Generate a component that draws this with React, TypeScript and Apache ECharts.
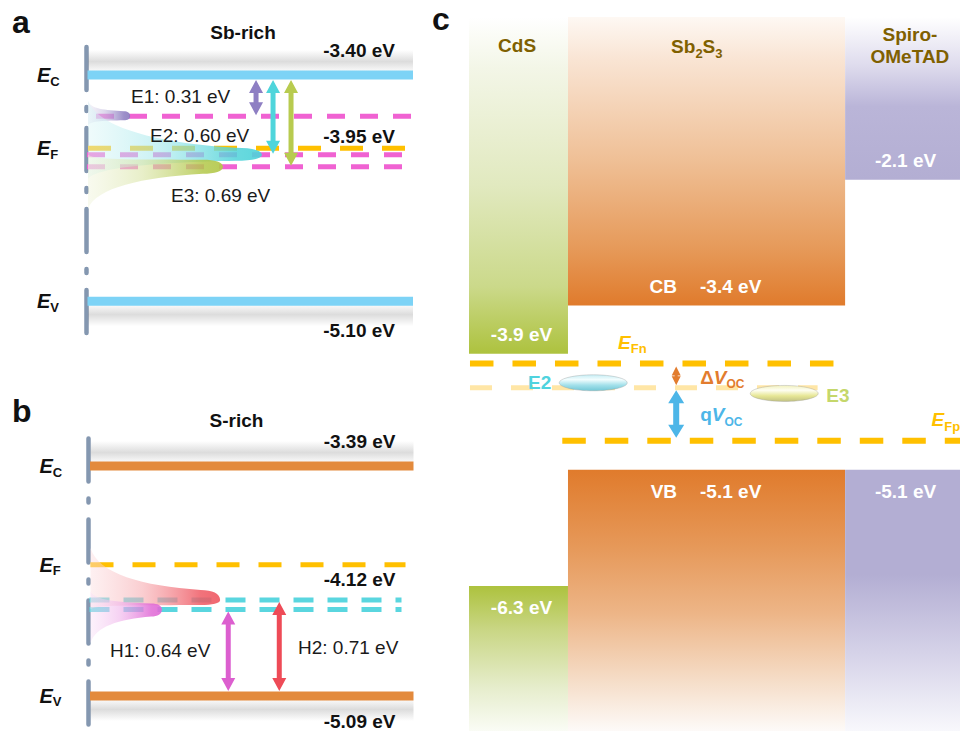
import React, { useEffect, useRef } from "react";
import * as echarts from "echarts";

const FONT = '"Liberation Sans", Arial, Helvetica, sans-serif';

// ================= DATA =================
// Panel a — Sb-rich Sb2S3 (energies in eV)
const sbRichLevelNames = ["C", "F", "V"];
const sbRichLevels = [-3.4, -3.95, -5.1];
const sbRichTrapNames = ["E1", "E2", "E3"];
const sbRichTrapDepths = [0.31, 0.6, 0.69]; // below E_C

// Panel b — S-rich Sb2S3 (energies in eV)
const sRichLevelNames = ["C", "F", "V"];
const sRichLevels = [-3.39, -4.12, -5.09];
const sRichTrapNames = ["H1", "H2"];
const sRichTrapHeights = [0.64, 0.71]; // above E_V

// Panel c — device band alignment (energies in eV)
const layerNames = ["CdS", "Sb2S3", "Spiro-OMeTAD"];
const layerCB = [-3.9, -3.4, -2.1];
const layerVB = [-6.3, -5.1, -5.1];
const layerCBTags = ["", "CB", ""];
const layerVBTags = ["", "VB", ""];
const quasiFermiNames = ["Fn", "Fp"];
const quasiFermiLevels = [-4.0, -4.8];
const deepTrapLevel = -4.25;
const cTrapNames = ["E2", "E3"];
const cTrapLevels = [-4.2, -4.31];
const voltageLabels = [
  ["\u0394", "V", "OC"],
  ["q", "V", "OC"],
];

// ================= STYLE / LAYOUT =================
const FERMI = "#ffc000";
const AXIS_GREY = "#8497b0";
const A_BAND = "#7dd3f6";
const B_BAND = "#e38a3c";
const A_TRAP_LINE = "#f062d2";
const B_TRAP_LINE = "#5ad6df";
const A_ARROW_COLORS = ["#8e7fc3", "#4fd5db", "#b8cb4f"];
const B_ARROW_COLORS = ["#dc5fcf", "#ee4b57"];
const A_BLOB_COLORS = ["#8c7cc0", "#4fd3d9", "#b3c84a"];
const B_BLOB_COLORS = ["#e06ad6", "#ef5a64"];
const TITLE_BROWN = "#7f6000";

const A_VAL_DY = [-25, -11.5, 29];
const B_VAL_DY = [-24.5, 15, 26];
const A_ARROW_X = [0.52, 0.572, 0.627];
const B_ARROW_X = [0.43, 0.587];
const A_TRAP_LABEL = [
  [45, -19.7],
  [64, -19.7],
  [85, 28.3],
];
const B_TRAP_LABEL = [
  [21.5, 41],
  [209.5, 47.5],
];
// [tip x fraction, upward spread px, downward spread px, tip half-thickness up, down]
const A_BLOBS = [
  [0.135, 15, 9, 5, 4],
  [0.538, 54, 24, 7, 6],
  [0.419, 12, 42, 7, 7],
];
const B_BLOBS = [
  [0.226, 18, 34, 6, 7],
  [0.405, 52, 9, 10, 5],
];

const C_LAYER_X = [
  [0, 20.16],
  [20.16, 76.6],
  [76.6, 100],
];
const C_TITLE_X = [9.8, 46.4, 89.8];
const C_TITLE_DY = [25, 26, 25];
const C_FERMI_X = [
  [0.2, 74.3],
  [19.0, 101],
];
const C_FERMI_LABEL_X = [30.35, 94.2];
const C_RECOMB_X = [0.2, 71];
const C_TRAP_X = [25.3, 64.2];
const C_ARROW_X = 42.2;

const CB_GRADS: [number, string][][] = [
  [[0, "#ffffff"], [0.15, "#f3f6e7"], [0.5, "#e1e9bf"], [0.8, "#cbd98a"], [1, "#adc23e"]],
  [[0, "#fef8f3"], [0.15, "#f9e4d3"], [0.5, "#efbf95"], [0.8, "#e69a5a"], [1, "#e07b2c"]],
  [[0, "#ffffff"], [0.3, "#dedbed"], [0.55, "#bab5d8"], [1, "#b3aed3"]],
];
const VB_GRADS: [number, string][][] = [
  [[0, "#adc23e"], [0.3, "#c9d684"], [0.7, "#e6edcc"], [1, "#fafcf5"]],
  [[0, "#e07b2c"], [0.3, "#e6995a"], [0.55, "#edb587"], [0.8, "#f5dcc6"], [1, "#fdfaf8"]],
  [[0, "#b3aed3"], [0.4, "#b3aed3"], [0.7, "#d5d2e8"], [1, "#f8f8fc"]],
];
const SHADOW_UP: [number, string][] = [
  [0, "rgba(110,110,110,0)"],
  [0.55, "rgba(110,110,110,0.24)"],
  [1, "rgba(110,110,110,0.04)"],
];
const SHADOW_DOWN: [number, string][] = [
  [0, "rgba(110,110,110,0.04)"],
  [0.45, "rgba(110,110,110,0.24)"],
  [1, "rgba(110,110,110,0)"],
];

// ================= HELPERS =================
const mix = (hex: string, t: number, a = 1) => {
  const n = parseInt(hex.slice(1), 16);
  const r = (n >> 16) & 255,
    g = (n >> 8) & 255,
    b = n & 255;
  const m = (c: number) => Math.round(c + (255 - c) * t);
  return `rgba(${m(r)},${m(g)},${m(b)},${a})`;
};
const grad = (stops: [number, string][], horizontal = false) => ({
  type: "linear",
  x: 0,
  y: 0,
  x2: horizontal ? 1 : 0,
  y2: horizontal ? 0 : 1,
  colorStops: stops.map(([offset, color]) => ({ offset, color })),
});
const hLine = (x1: number, x2: number, y: number, stroke: string, lineWidth: number, lineDash: number[]) => ({
  type: "line",
  shape: { x1, y1: y, x2, y2: y },
  style: { stroke, lineWidth, lineDash },
});
const dblArrow = (x: number, yT: number, yB: number, fill: string, hw = 7, hl = 13, sw = 2.5) => ({
  type: "polygon",
  shape: {
    points: [
      [x, yT],
      [x + hw, yT + hl],
      [x + sw, yT + hl],
      [x + sw, yB - hl],
      [x + hw, yB - hl],
      [x, yB],
      [x - hw, yB - hl],
      [x - sw, yB - hl],
      [x - sw, yT + hl],
      [x - hw, yT + hl],
    ],
  },
  style: { fill },
});
// tip -> rounded shoulder -> flared tail to the axis, on one side (s = -1 up, +1 down)
const blobSide = (x0: number, xT: number, y0: number, ext: number, a: number, s: number, reverse: boolean) => {
  const w = xT - x0;
  const P1 = [x0 + 0.85 * w, y0 + s * a];
  const segs = [
    // tip to shoulder
    [[xT, y0], [xT, y0 + s * a * 0.65], [xT - 0.06 * w, y0 + s * a], P1],
    // shoulder to axis
    [P1, [x0 + 0.4 * w, y0 + s * (a + 0.1 * (ext - a))], [x0 + 0.06 * w, y0 + s * 0.5 * ext], [x0, y0 + s * ext]],
  ];
  if (!reverse) {
    return segs.map((g) => `C ${g[1][0]} ${g[1][1]} ${g[2][0]} ${g[2][1]} ${g[3][0]} ${g[3][1]}`).join(" ");
  }
  return segs
    .slice()
    .reverse()
    .map((g) => `C ${g[2][0]} ${g[2][1]} ${g[1][0]} ${g[1][1]} ${g[0][0]} ${g[0][1]}`)
    .join(" ");
};
const blob = (x0: number, xT: number, y0: number, p: number[], color: string, z2 = 0) => {
  const [, up, down, aUp, aDown] = p;
  const d =
    `M ${x0} ${y0 - up} ` +
    blobSide(x0, xT, y0, up, aUp, -1, true) +
    " " +
    blobSide(x0, xT, y0, down, aDown, 1, false) +
    " Z";
  return {
    type: "path",
    z2,
    shape: { pathData: d },
    style: {
      fill: grad(
        [
          [0, mix(color, 0.8, 0.45)],
          [0.4, mix(color, 0.5, 0.6)],
          [0.85, mix(color, 0, 0.85)],
          [1, mix(color, 0, 0.92)],
        ],
        true
      ),
    },
  };
};
const plainText = (x: number, y: number, text: string, o: any = {}) => ({
  type: "text",
  x,
  y,
  style: {
    text,
    fontFamily: FONT,
    fontSize: 19,
    fontWeight: "normal",
    fill: "#1a1a1a",
    align: "left",
    verticalAlign: "middle",
    ...o,
  },
});
const richText = (x: number, y: number, parts: string[][], o: any = {}) => {
  const { size = 19, subSize = 13, fill = "#111", align = "left", pad = 12 } = o;
  const base = { fontFamily: FONT, fontWeight: "bold", fill };
  return {
    type: "text",
    x,
    y,
    style: {
      text: parts.map(([k, t]) => `{${k}|${t}}`).join(""),
      align,
      verticalAlign: "middle",
      fill,
      fontFamily: FONT,
      fontSize: size,
      fontWeight: "bold",
      rich: {
        n: { ...base, fontSize: size },
        i: { ...base, fontSize: size, fontStyle: "italic" },
        s: { ...base, fontSize: subSize, padding: [pad, 0, 0, 0] },
      },
    },
  };
};

// ================= SERIES BUILDERS =================
function levelSeries(gi: number, levels: number[], names: string[], bandColor: string, valDy: number[]) {
  return {
    type: "custom",
    xAxisIndex: gi,
    yAxisIndex: gi,
    z: 2,
    silent: true,
    data: levels.map((v) => [0, v]),
    renderItem: (params: any, api: any) => {
      const i = params.dataIndex;
      const cs = params.coordSys;
      const v = api.value(1);
      const y = api.coord([0, v])[1];
      const x0 = cs.x,
        x1 = cs.x + cs.width;
      const ch: any[] = [];
      if (i === 1) ch.push(hLine(x0 + 2, x1 - 8, y, FERMI, 5, [23, 19]));
      else {
        const up = i === 0;
        ch.push({
          type: "rect",
          shape: { x: x0 + 2, y: up ? y - 25 : y + 4, width: cs.width - 2, height: 21 },
          style: { fill: grad(up ? SHADOW_UP : SHADOW_DOWN) },
        });
        ch.push({
          type: "rect",
          shape: { x: x0 + 1.5, y: y - 4.5, width: cs.width - 1.5, height: 9 },
          style: { fill: bandColor },
        });
      }
      ch.push(richText(x0 - 49, y, [["i", "E"], ["s", names[i]]], { size: 20, subSize: 13, pad: 12 }));
      ch.push(
        plainText(x1 - 18, y + valDy[i], `${v.toFixed(2)} eV`, { align: "right", fontWeight: "bold", fill: "#111" })
      );
      return { type: "group", children: ch };
    },
  };
}

function buildOption() {
  const grids = [
    { left: 86, top: 47.07, width: 327, height: 286 },
    { left: 88.5, top: 437.6, width: 325, height: 286.8 },
    { left: 469, top: 20.1, width: 491, height: 713 },
  ];
  const yRanges = [
    [-5.34, -3.19],
    [-5.3, -3.18],
    [-7.8, -0.45],
  ];
  const xRanges = [
    [0, 1],
    [0, 1],
    [0, 100],
  ];
  const xAxis = xRanges.map(([min, max], i) => ({ type: "value", gridIndex: i, min, max, show: false }));
  const yAxis = yRanges.map(([min, max], i) => ({
    type: "value",
    gridIndex: i,
    min,
    max,
    show: i < 2,
    axisLine: {
      show: true,
      onZero: false,
      lineStyle: { color: AXIS_GREY, width: 4.5, type: [43, 17, 4, 17] },
    },
    axisTick: { show: false },
    axisLabel: { show: false },
    splitLine: { show: false },
  }));

  const aTrapData = sbRichTrapDepths.map((d) => [0, sbRichLevels[0] - d]);
  const bTrapData = sRichTrapHeights.map((h) => [0, sRichLevels[2] + h]);

  const series: any[] = [
    // ---------- panel a ----------
    levelSeries(0, sbRichLevels, sbRichLevelNames, A_BAND, A_VAL_DY),
    {
      type: "custom",
      xAxisIndex: 0,
      yAxisIndex: 0,
      z: 2,
      silent: true,
      data: aTrapData,
      renderItem: (params: any, api: any) => {
        const i = params.dataIndex;
        const cs = params.coordSys;
        const y = api.coord([0, api.value(1)])[1];
        return hLine(cs.x + (i === 0 ? 10 : 1), cs.x + cs.width - (i === 0 ? 0 : 10), y, A_TRAP_LINE, 5, [18, 15]);
      },
    },
    {
      type: "custom",
      xAxisIndex: 0,
      yAxisIndex: 0,
      z: 3,
      silent: true,
      data: aTrapData,
      renderItem: (params: any, api: any) => {
        const i = params.dataIndex;
        const cs = params.coordSys;
        const y = api.coord([0, api.value(1)])[1];
        return blob(cs.x + 2, cs.x + A_BLOBS[i][0] * cs.width, y, A_BLOBS[i], A_BLOB_COLORS[i]);
      },
    },
    {
      type: "custom",
      xAxisIndex: 0,
      yAxisIndex: 0,
      z: 4,
      silent: true,
      data: aTrapData,
      renderItem: (params: any, api: any) => {
        const i = params.dataIndex;
        const cs = params.coordSys;
        const y = api.coord([0, api.value(1)])[1];
        const yC = api.coord([0, sbRichLevels[0]])[1];
        const x = cs.x + A_ARROW_X[i] * cs.width;
        return {
          type: "group",
          children: [
            dblArrow(x, yC + 5, y - 1, A_ARROW_COLORS[i]),
            plainText(
              cs.x + A_TRAP_LABEL[i][0],
              y + A_TRAP_LABEL[i][1],
              `${sbRichTrapNames[i]}: ${sbRichTrapDepths[i].toFixed(2)} eV`
            ),
          ],
        };
      },
    },
    // ---------- panel b ----------
    levelSeries(1, sRichLevels, sRichLevelNames, B_BAND, B_VAL_DY),
    {
      type: "custom",
      xAxisIndex: 1,
      yAxisIndex: 1,
      z: 2,
      silent: true,
      data: bTrapData,
      renderItem: (params: any, api: any) => {
        const cs = params.coordSys;
        const y = api.coord([0, api.value(1)])[1];
        return hLine(cs.x + 1, cs.x + cs.width - 12, y, B_TRAP_LINE, 5, [20, 14]);
      },
    },
    {
      type: "custom",
      xAxisIndex: 1,
      yAxisIndex: 1,
      z: 3,
      silent: true,
      data: bTrapData,
      renderItem: (params: any, api: any) => {
        const i = params.dataIndex;
        const cs = params.coordSys;
        const y = api.coord([0, api.value(1)])[1];
        return blob(cs.x + 2, cs.x + B_BLOBS[i][0] * cs.width, y, B_BLOBS[i], B_BLOB_COLORS[i], 10 - i);
      },
    },
    {
      type: "custom",
      xAxisIndex: 1,
      yAxisIndex: 1,
      z: 4,
      silent: true,
      data: bTrapData,
      renderItem: (params: any, api: any) => {
        const i = params.dataIndex;
        const cs = params.coordSys;
        const y = api.coord([0, api.value(1)])[1];
        const yV = api.coord([0, sRichLevels[2]])[1];
        const x = cs.x + B_ARROW_X[i] * cs.width;
        return {
          type: "group",
          children: [
            dblArrow(x, y + 2, yV - 5, B_ARROW_COLORS[i]),
            plainText(
              cs.x + B_TRAP_LABEL[i][0],
              y + B_TRAP_LABEL[i][1],
              `${sRichTrapNames[i]}: ${sRichTrapHeights[i].toFixed(2)} eV`
            ),
          ],
        };
      },
    },
    // ---------- panel c ----------
    {
      type: "custom",
      xAxisIndex: 2,
      yAxisIndex: 2,
      z: 1,
      silent: true,
      data: layerNames.map((_, i) => [i, layerCB[i], layerVB[i]]),
      renderItem: (params: any, api: any) => {
        const i = params.dataIndex;
        const cs = params.coordSys;
        const xa = api.coord([C_LAYER_X[i][0], 0])[0];
        const xb = api.coord([C_LAYER_X[i][1], 0])[0];
        const cb = api.value(1),
          vb = api.value(2);
        const yCB = api.coord([0, cb])[1];
        const yVB = api.coord([0, vb])[1];
        const top = cs.y - 3,
          bot = cs.y + cs.height;
        const cx = (xa + xb) / 2;
        const ch: any[] = [
          { type: "rect", shape: { x: xa, y: top, width: xb - xa, height: yCB - top }, style: { fill: grad(CB_GRADS[i]) } },
          { type: "rect", shape: { x: xa, y: yVB, width: xb - xa, height: bot - yVB }, style: { fill: grad(VB_GRADS[i]) } },
        ];
        const white = { fontWeight: "bold", fill: "#ffffff" };
        const addBand = (tag: string, val: number, y: number) => {
          if (tag) {
            ch.push(plainText(cx - 29.5, y, tag, { ...white, align: "right" }));
            ch.push(plainText(cx - 6.5, y, `${val.toFixed(1)} eV`, { ...white, align: "left" }));
          } else {
            ch.push(plainText(cx + 3, y, `${val.toFixed(1)} eV`, { ...white, align: "center" }));
          }
        };
        addBand(layerCBTags[i], cb, yCB - 19);
        addBand(layerVBTags[i], vb, yVB + 22);
        const tx = api.coord([C_TITLE_X[i], 0])[0];
        const ty = cs.y + C_TITLE_DY[i];
        const name = layerNames[i];
        if (/\d/.test(name)) {
          const parts = name
            .split(/(\d+)/)
            .filter(Boolean)
            .map((p) => (/\d/.test(p) ? ["s", p] : ["n", p]));
          ch.push(richText(tx, ty, parts, { size: 19, subSize: 13, pad: 14, fill: TITLE_BROWN, align: "center" }));
        } else {
          ch.push(
            plainText(tx, ty, name.replace("-", "-\n"), {
              fontWeight: "bold",
              fill: TITLE_BROWN,
              align: "center",
              lineHeight: 22,
            })
          );
        }
        return { type: "group", children: ch };
      },
    },
    {
      type: "custom",
      xAxisIndex: 2,
      yAxisIndex: 2,
      z: 2,
      silent: true,
      data: [[0, deepTrapLevel]],
      renderItem: (params: any, api: any) => {
        const y = api.coord([0, api.value(1)])[1];
        const xa = api.coord([C_RECOMB_X[0], 0])[0];
        const xb = api.coord([C_RECOMB_X[1], 0])[0];
        return hLine(xa, xb, y, "#ffe6a6", 5, [22, 19]);
      },
    },
    {
      type: "custom",
      xAxisIndex: 2,
      yAxisIndex: 2,
      z: 2,
      silent: true,
      data: quasiFermiLevels.map((v) => [0, v]),
      renderItem: (params: any, api: any) => {
        const i = params.dataIndex;
        const y = api.coord([0, api.value(1)])[1];
        const xa = api.coord([C_FERMI_X[i][0], 0])[0];
        const xb = api.coord([C_FERMI_X[i][1], 0])[0];
        const lx = api.coord([C_FERMI_LABEL_X[i], 0])[0];
        return {
          type: "group",
          children: [
            hLine(xa, xb, y, FERMI, 6, [23.5, 19]),
            richText(lx, y - 21, [["i", "E"], ["s", quasiFermiNames[i]]], {
              size: 19,
              subSize: 13,
              pad: 13,
              fill: FERMI,
            }),
          ],
        };
      },
    },
    {
      type: "custom",
      xAxisIndex: 2,
      yAxisIndex: 2,
      z: 3,
      silent: true,
      data: cTrapLevels.map((v) => [0, v]),
      renderItem: (params: any, api: any) => {
        const i = params.dataIndex;
        const y = api.coord([0, api.value(1)])[1];
        const cx = api.coord([C_TRAP_X[i], 0])[0];
        const rx = 34,
          ry = 8;
        const fills = [
          [
            [0, "#c6eef5"],
            [0.3, "#f2fdfe"],
            [0.65, "#a2e0ea"],
            [1, "#72c8d6"],
          ],
          [
            [0, "#f2f2bd"],
            [0.3, "#fefef2"],
            [0.65, "#e7e796"],
            [1, "#c2c283"],
          ],
        ] as [number, string][][];
        const labelColors = ["#4fd3de", "#c5d76b"];
        return {
          type: "group",
          children: [
            {
              type: "ellipse",
              shape: { cx, cy: y, rx, ry },
              style: { fill: grad(fills[i]), stroke: "rgba(150,150,150,0.35)", lineWidth: 1 },
            },
            plainText(i === 0 ? cx - rx - 8 : cx + rx + 8, i === 0 ? y : y + 2, cTrapNames[i], {
              fontWeight: "bold",
              fill: labelColors[i],
              align: i === 0 ? "right" : "left",
            }),
          ],
        };
      },
    },
    {
      type: "custom",
      xAxisIndex: 2,
      yAxisIndex: 2,
      z: 4,
      silent: true,
      data: [
        [C_ARROW_X, quasiFermiLevels[0], deepTrapLevel],
        [C_ARROW_X, deepTrapLevel, quasiFermiLevels[1]],
      ],
      renderItem: (params: any, api: any) => {
        const i = params.dataIndex;
        const [x, y1] = api.coord([api.value(0), api.value(1)]);
        const y2 = api.coord([api.value(0), api.value(2)])[1];
        const color = i === 0 ? "#e27c2e" : "#4db6e8";
        const arrow = i === 0 ? dblArrow(x, y1 + 3, y2 - 2.5, color, 4.5, 9, 1.5) : dblArrow(x, y1 + 2.5, y2 - 3, color, 8, 13, 3);
        const [a, v, s] = voltageLabels[i];
        return {
          type: "group",
          children: [
            arrow,
            richText(x + 24, (y1 + y2) / 2 + (i === 0 ? 1.5 : 0.5), [["n", a], ["i", v], ["s", s]], {
              size: 19,
              subSize: 12,
              pad: 14,
              fill: color,
            }),
          ],
        };
      },
    },
  ];

  const graphic = [
    { type: "text", x: 12, y: 22, style: { text: "a", fontFamily: FONT, fontSize: 32, fontWeight: "bold", fill: "#111", verticalAlign: "middle" } },
    { type: "text", x: 12, y: 411, style: { text: "b", fontFamily: FONT, fontSize: 32, fontWeight: "bold", fill: "#111", verticalAlign: "middle" } },
    { type: "text", x: 432, y: 19, style: { text: "c", fontFamily: FONT, fontSize: 32, fontWeight: "bold", fill: "#111", verticalAlign: "middle" } },
    { type: "text", x: 243, y: 32.5, style: { text: "Sb-rich", fontFamily: FONT, fontSize: 19, fontWeight: "bold", fill: "#111", align: "center", verticalAlign: "middle" } },
    { type: "text", x: 236.5, y: 420.5, style: { text: "S-rich", fontFamily: FONT, fontSize: 19, fontWeight: "bold", fill: "#111", align: "center", verticalAlign: "middle" } },
  ];

  return {
    animation: false,
    backgroundColor: "#ffffff",
    grid: grids,
    xAxis,
    yAxis,
    series,
    graphic,
  };
}

export default function App() {
  const ref = useRef<HTMLDivElement>(null);
  useEffect(() => {
    const chart = echarts.init(ref.current as HTMLDivElement, null, { renderer: "svg" });
    chart.setOption(buildOption() as any);
    return () => chart.dispose();
  }, []);
  return (
    <div
      ref={ref}
      style={{ position: "absolute", left: 0, top: 0, width: 960, height: 731, background: "#fff" }}
    />
  );
}
